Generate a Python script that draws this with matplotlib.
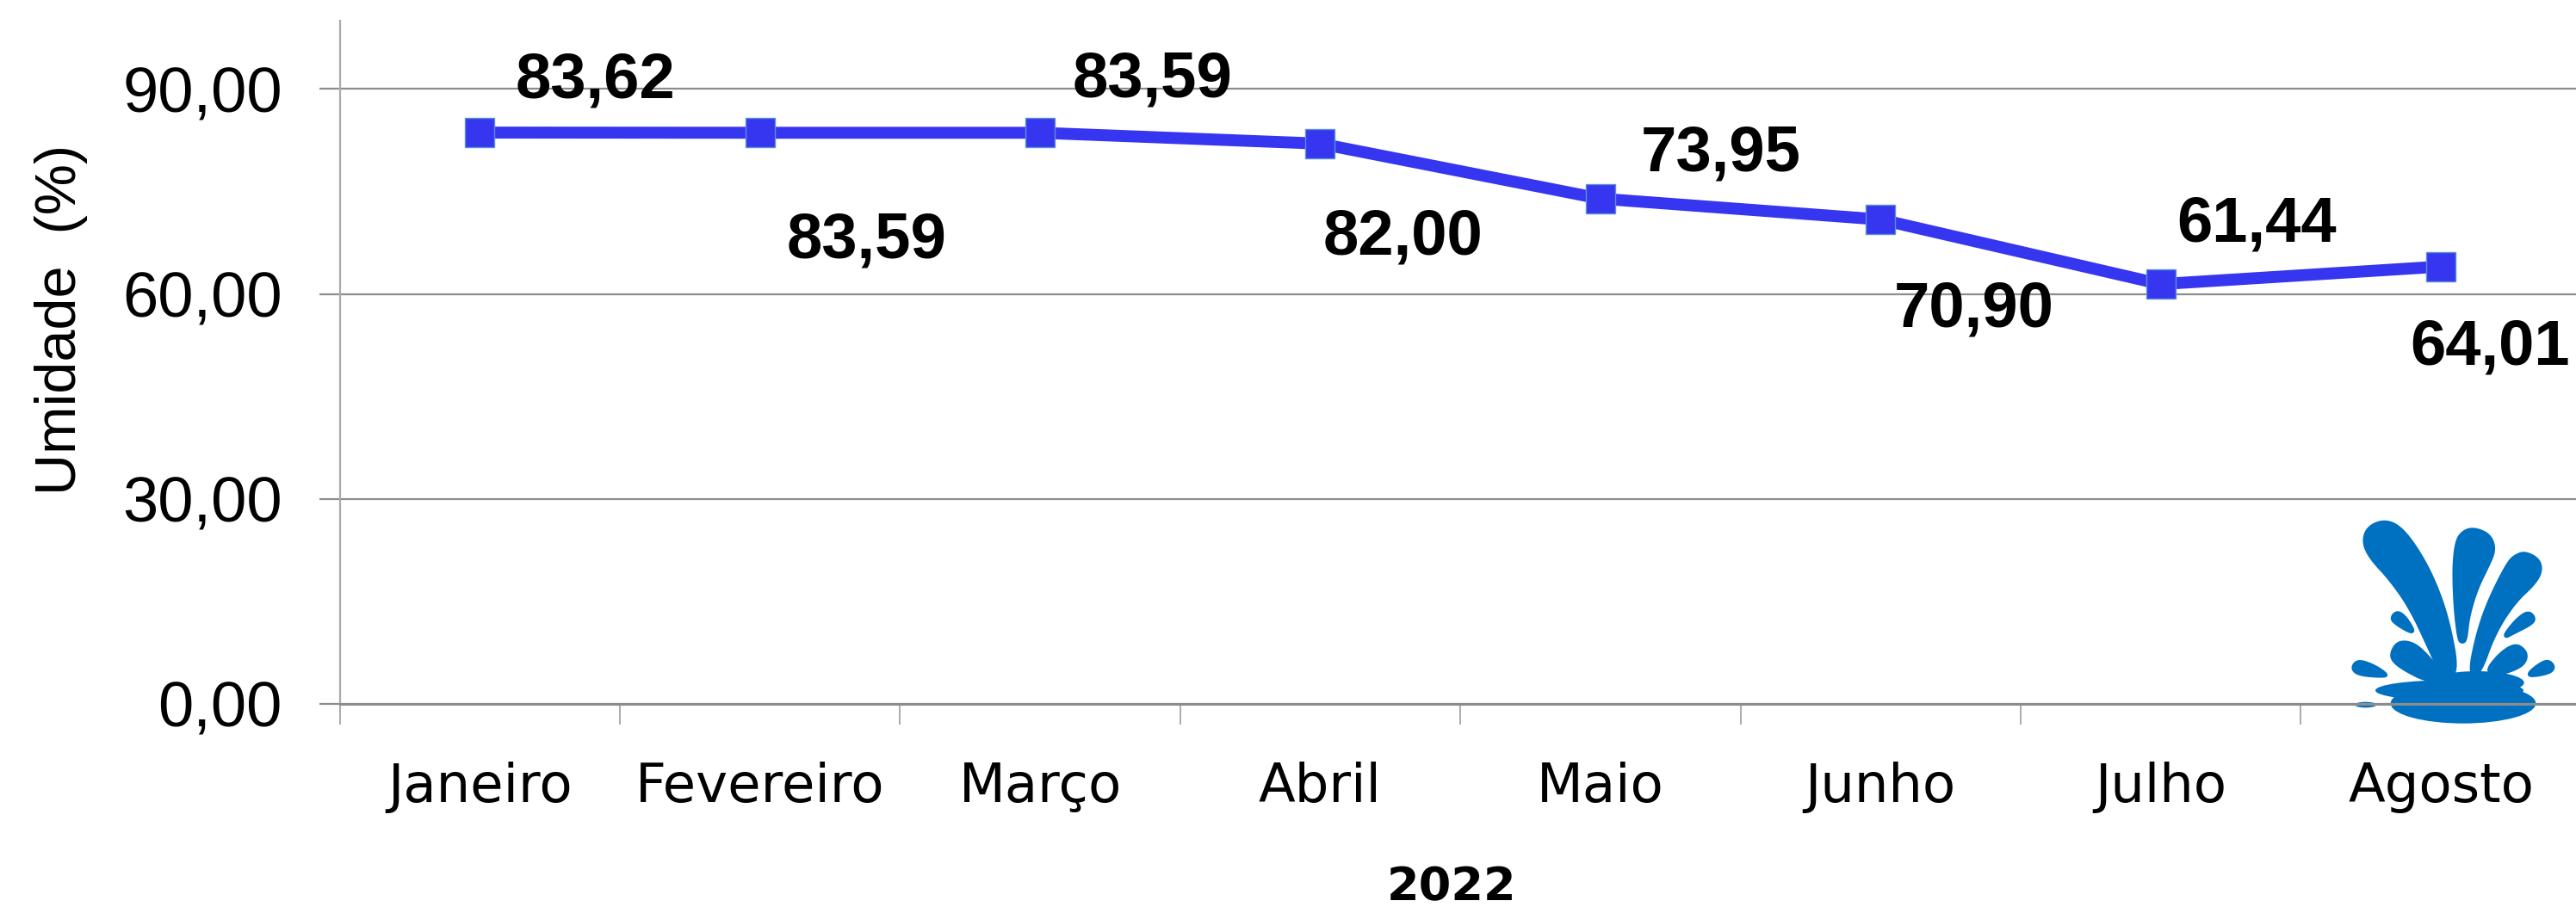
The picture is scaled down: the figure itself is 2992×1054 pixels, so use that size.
import matplotlib
matplotlib.use("Agg")
import matplotlib.pyplot as plt
import numpy as np
from matplotlib.patches import Ellipse, Polygon

# data
months = ["Janeiro", "Fevereiro", "Março", "Abril", "Maio", "Junho", "Julho", "Agosto"]
humidity = [83.62, 83.59, 83.59, 82.00, 73.95, 70.90, 61.44, 64.01]
y_ticks = [0, 30, 60, 90]

# label offsets from each point, in pixels
label_dx = [134, 124, 131, 96, 140, 108, 111, 57]
label_dy = [60, -126, 61, -109, 52, -105, 69, -94]

W, H = 2992, 1054
LINE_BLUE = "#3636F0"
LOGO_BLUE = "#0070C0"

# splash logo outlines, traced in zoom pixels
drops = [
    [(355, 135), (410, 155), (470, 230), (530, 340), (580, 480), (615, 670), (560, 680), (520, 590), (450, 440), (380, 340), (310, 265), (285, 210), (300, 160)],
    [(672, 163), (725, 185), (743, 235), (720, 290), (680, 370), (650, 470), (642, 550), (630, 560), (618, 550), (605, 440), (600, 300), (610, 205), (635, 172)],
    [(850, 247), (895, 270), (905, 310), (880, 355), (810, 420), (740, 530), (690, 670), (655, 670), (680, 540), (720, 420), (790, 280), (820, 255)],
    [(402, 452), (430, 470), (460, 518), (450, 524), (400, 495), (382, 475)],
    [(860, 452), (882, 475), (870, 495), (800, 530), (782, 540), (780, 530), (820, 480)],
    [(430, 557), (470, 570), (520, 620), (565, 680), (510, 695), (430, 655), (390, 625), (382, 600), (400, 565)],
    [(815, 565), (850, 590), (852, 620), (830, 645), (770, 668), (710, 665), (760, 600)],
    [(265, 622), (320, 640), (368, 672), (355, 678), (270, 672), (245, 650)],
    [(930, 623), (950, 645), (935, 665), (870, 677), (860, 668), (900, 635)],
]


def smooth(points, rounds=3):
    # chaikin corner cutting on a closed outline
    pts = np.array(points, dtype=float)
    for _ in range(rounds):
        nxt = np.roll(pts, -1, axis=0)
        pts = np.column_stack([0.75 * pts + 0.25 * nxt, 0.25 * pts + 0.75 * nxt]).reshape(-1, 2)
    return pts


def fig_rect(x, y, w, h):
    return [x / W, 1 - (y + h) / H, w / W, h / H]


fig = plt.figure(figsize=(W / 100, H / 100), dpi=100, facecolor="white")

# logo goes first so the axis line stays on top of it
logo = fig.add_axes(fig_rect(2650, 560, 342, 300))
logo.set_xlim(0, 1026)
logo.set_ylim(900, 0)
logo.axis("off")
for d in drops:
    # the smoothing eats the outline a bit, the stroke gives it back
    logo.add_patch(Polygon(smooth(d), closed=True, fc=LOGO_BLUE, ec=LOGO_BLUE, lw=3, joinstyle="round"))
logo.add_patch(Ellipse((293, 777), 75, 20, fc=LOGO_BLUE, ec="none"))
logo.add_patch(Ellipse((585, 727), 516, 72, fc=LOGO_BLUE, ec="none"))
logo.add_patch(Ellipse((680, 700), 330, 80, fc=LOGO_BLUE, ec="none"))
logo.add_patch(Ellipse((633, 772), 506, 140, fc=LOGO_BLUE, ec="none"))

ax = fig.add_axes(fig_rect(394.5, 24, 8 * 325.4, 794))
ax.patch.set_alpha(0)
ax.set_xlim(0, 8)
ax.set_ylim(0, 100)

x = np.arange(len(months)) + 0.5
ax.plot(x, humidity, color=LINE_BLUE, lw=10, solid_joinstyle="miter", zorder=3, clip_on=False,
        marker="s", ms=24, mfc=LINE_BLUE, mec="#5B8FD8", mew=1)

for xi, v, dx, dy in zip(x, humidity, label_dx, label_dy):
    ax.annotate(f"{v:.2f}".replace(".", ","), (xi, v), xytext=(dx, dy), textcoords="offset pixels",
                ha="center", va="center", family="Liberation Sans", weight="bold", fontsize=53.5,
                color="black", zorder=4, annotation_clip=False)

for s in ["top", "right"]:
    ax.spines[s].set_visible(False)
ax.spines["left"].set_color("#ABABAB")
ax.spines["left"].set_linewidth(1.6)
ax.spines["bottom"].set_color("#8C8C8C")
ax.spines["bottom"].set_linewidth(2.2)

ax.set_yticks(y_ticks)
ax.set_yticklabels([f"{t:.2f}".replace(".", ",") for t in y_ticks], family="Liberation Sans", fontsize=53.5)
ax.tick_params(axis="y", length=17, width=1.6, color="#8C8C8C", pad=31)
ax.grid(axis="y", color="#8C8C8C", lw=1.6)
ax.set_axisbelow(True)

ax.set_xticks(np.arange(0, 9))
ax.set_xticklabels([])
ax.tick_params(axis="x", length=17, width=1.4, color="#ABABAB")
ax.set_xticks(x, minor=True)
ax.set_xticklabels(months, minor=True, family="DejaVu Sans", fontsize=45)
ax.tick_params(axis="x", which="minor", length=0, pad=48)

fig.text(71 / W, 1 - 371 / H, "Umidade  (%)", rotation=90, ha="center", va="center",
         family="Liberation Sans", fontsize=48)
fig.text(1686 / W, 1 - 1031 / H, "2022", ha="center", va="center",
         family="DejaVu Sans", weight="bold", fontsize=39)

fig.savefig("out.png", dpi=100, facecolor="white")
